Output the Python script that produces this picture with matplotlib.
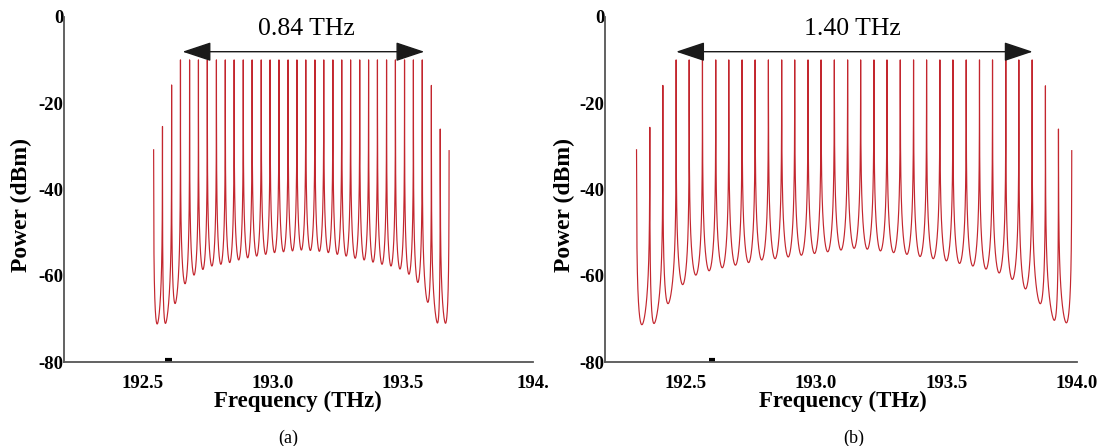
import numpy as np
import matplotlib
matplotlib.use('Agg')
import matplotlib.pyplot as plt

plt.rcParams['font.family'] = ['Liberation Serif', 'DejaVu Serif']
plt.rcParams['axes.unicode_minus'] = False

# ---------------- data ----------------
# panel (a): comb line frequencies (THz), peak powers (dBm), inter-line floors (dBm)
freq_a = [192.544, 192.578, 192.613, 192.647, 192.682, 192.716, 192.750, 192.785,
          192.819, 192.853, 192.888, 192.922, 192.957, 192.991, 193.025, 193.060,
          193.094, 193.128, 193.163, 193.197, 193.232, 193.266, 193.300, 193.335,
          193.369, 193.403, 193.438, 193.472, 193.507, 193.541, 193.575, 193.610,
          193.644, 193.678]
peak_a = [-30.8, -25.4, -15.8, -10.0, -10.0, -10.0, -10.0, -10.0, -10.0, -10.0,
          -10.0, -10.0, -10.0, -10.0, -10.0, -10.0, -10.0, -10.0, -10.0, -10.0,
          -10.0, -10.0, -10.0, -10.0, -10.0, -10.0, -10.0, -10.0, -10.0, -10.0,
          -10.0, -15.9, -26.0, -31.0]
valley_a = [-70.6, -69.6, -65.8, -61.8, -59.8, -58.5, -57.7, -57.3, -56.9, -56.3,
            -55.8, -55.4, -55.0, -54.6, -54.4, -54.2, -54.0, -54.1, -54.3, -54.6,
            -55.0, -55.4, -55.9, -56.3, -56.8, -57.3, -57.7, -58.4, -59.6, -61.5,
            -65.5, -69.4, -70.5]

# panel (b)
freq_b = [192.311, 192.362, 192.412, 192.463, 192.513, 192.564, 192.615, 192.665,
          192.716, 192.766, 192.817, 192.868, 192.918, 192.969, 193.019, 193.070,
          193.121, 193.171, 193.222, 193.272, 193.323, 193.374, 193.424, 193.475,
          193.525, 193.576, 193.627, 193.677, 193.728, 193.778, 193.829, 193.880,
          193.930, 193.981]
peak_b = [-30.8, -25.6, -15.9, -10.0, -10.0, -10.0, -10.0, -10.0, -10.0, -10.0,
          -10.0, -10.0, -10.0, -10.0, -10.0, -10.0, -10.0, -10.0, -10.0, -10.0,
          -10.0, -10.0, -10.0, -10.0, -10.0, -10.0, -10.0, -10.0, -10.0, -10.0,
          -10.0, -16.0, -26.0, -31.0]
valley_b = [-70.8, -69.6, -65.8, -62.0, -59.8, -58.8, -58.1, -57.5, -56.9, -56.3,
            -56.0, -55.6, -55.2, -54.8, -54.4, -54.0, -53.6, -53.8, -54.2, -54.6,
            -55.0, -55.5, -56.0, -56.5, -57.1, -57.7, -58.4, -59.3, -60.8, -63.0,
            -65.8, -68.8, -70.4]

xticks = [192.5, 193.0, 193.5, 194.0]
xticklabels_a = ['192.5', '193.0', '193.5', '194.']
xticklabels_b = ['192.5', '193.0', '193.5', '194.0']
yticks = [0, -20, -40, -60, -80]
yticklabels = ['0', '-20', '-40', '-60', '-80']

span_a = [192.655, 193.583]
span_b = [192.463, 193.831]
span_level = -8.1
span_text_a = '0.84 THz'
span_text_b = '1.40 THz'

marker_a = [192.588, 192.614]
marker_b = [192.588, 192.614]
marker_level = -79.4

xlim_a = (192.2, 194.0)
xlim_b = (192.19, 194.0)
ylim = (-80, 0)


def spectrum(freqs, peaks, valleys, n=700):
    fs, ys = [], []
    for j in range(len(valleys)):
        f1, f2 = freqs[j], freqs[j + 1]
        p1, p2 = 10 ** (peaks[j] / 10), 10 ** (peaks[j + 1] / 10)
        v = 10 ** (valleys[j] / 10)
        h = (f2 - f1) / 2
        w = h * np.sqrt(v / (p1 + p2))
        f = np.linspace(f1, f2, n)
        y = p1 / (1 + ((f - f1) / w) ** 2) + p2 / (1 + ((f - f2) / w) ** 2)
        if j > 0:
            f, y = f[1:], y[1:]
        fs.append(f)
        ys.append(y)
    f = np.concatenate(fs)
    y = 10 * np.log10(np.concatenate(ys))
    return f, y


fig = plt.figure(figsize=(11.03, 4.46), dpi=100)
ax_a = fig.add_axes([0.05802, 0.18744, 0.42520, 0.77512])
ax_b = fig.add_axes([0.54850, 0.18744, 0.42766, 0.77512])

panels = [
    (ax_a, freq_a, peak_a, valley_a, xlim_a, xticklabels_a, span_a, span_text_a, marker_a,
     0.2779, 0.2702, 0.2614, 0.0197, '(a)'),
    (ax_b, freq_b, peak_b, valley_b, xlim_b, xticklabels_b, span_b, span_text_b, marker_b,
     0.7729, 0.7643, 0.7736, 0.5113, '(b)'),
]

for (ax, fr, pk, vl, xl, xtl, span, stext, mk, tx, flx, capx, plx, cap) in panels:
    f, y = spectrum(fr, pk, vl)
    ax.plot(f, y, color='#c3262e', lw=0.85)
    ax.set_xlim(*xl)
    ax.set_ylim(*ylim)
    ax.set_xticks(xticks)
    ax.set_xticklabels(xtl)
    ax.set_yticks(yticks)
    ax.set_yticklabels(yticklabels)
    for s in ['top', 'right']:
        ax.spines[s].set_visible(False)
    for s in ['left', 'bottom']:
        ax.spines[s].set_color('#555555')
        ax.spines[s].set_linewidth(1.3)
    ax.tick_params(axis='x', length=0, pad=9.0, labelsize=13.5)
    ax.tick_params(axis='y', length=0, pad=0.3, labelsize=13.5)
    for lab in ax.get_xticklabels() + ax.get_yticklabels():
        lab.set_fontweight('bold')
    ax.annotate('', xy=(span[1], span_level), xytext=(span[0], span_level),
                arrowprops=dict(arrowstyle='<|-|>,head_length=1.8,head_width=0.6',
                                mutation_scale=10, color='#1a1a1a', lw=1.0,
                                shrinkA=0, shrinkB=0))
    ax.plot(mk, [marker_level, marker_level], color='k', lw=3, solid_capstyle='butt')
    fig.text(tx, 0.9339, stext, ha='center', va='center', fontsize=18.5)
    fig.text(flx, 0.0993, 'Frequency (THz)', ha='center', va='center',
             fontsize=16.5, fontweight='bold')
    fig.text(capx, 0.0173, cap, ha='center', va='center', fontsize=13)
    fig.text(plx, 0.5404, 'Power (dBm)', ha='center', va='center', rotation=90,
             fontsize=17, fontweight='bold')

fig.savefig('out.png', dpi=100)
